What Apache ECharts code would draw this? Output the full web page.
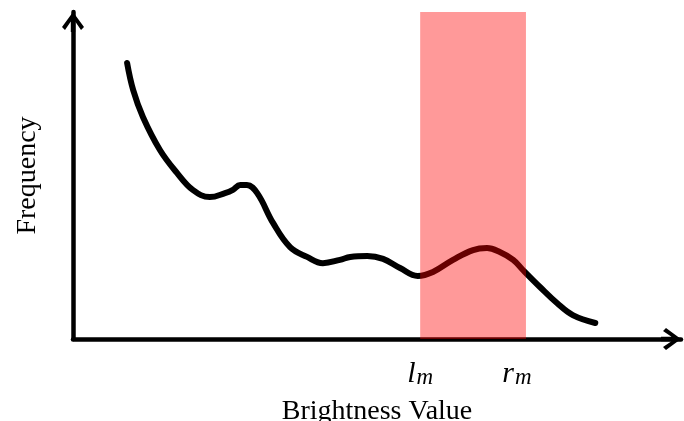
<!DOCTYPE html>
<html>
<head>
<meta charset="utf-8">
<script src="https://cdn.jsdelivr.net/npm/echarts@6/dist/echarts.min.js"></script>
<style>
  html, body { margin: 0; padding: 0; background: #fff; }
  #chart { width: 684px; height: 421px; }
</style>
</head>
<body>
<div id="chart"></div>
<script>
// histogram curve (x: brightness 0..100, y: frequency 0..100)
const brightness = [8.9, 9.9, 11.5, 14.3, 17.1, 19.7, 22.5, 25.0, 26.3, 27.5, 28.6, 30.3, 32.9, 35.7, 38.5, 41.1,
  43.9, 45.6, 48.4, 51.0, 53.8, 56.7, 59.2, 62.5, 65.8, 68.1, 70.2, 72.4, 74.0, 76.8, 79.6, 82.2, 85.9];
const frequency = [84.4, 76.1, 67.9, 57.8, 50.8, 45.6, 43.4, 44.6, 45.6, 47.1, 47.1, 44.6, 35.5, 28.1, 25.1, 23.2,
  24.2, 25.1, 25.4, 24.5, 21.7, 19.3, 20.5, 24.2, 27.2, 27.8, 26.6, 24.2, 21.1, 15.9, 11.0, 7.3, 4.9];

// highlighted range [l_m, r_m], full height
const lm = 57.1;
const rm = 74.5;
const bandTop = 100;
const tickLabels = { l: 'l', r: 'r' };

const serif = '"Liberation Serif", "Times New Roman", serif';
// open arrow head with a short stem, pointing up
const arrowHead = 'path://M11,0 L22,15 L19,18 L13.2,9.5 L13.2,20 L8.8,20 L8.8,9.5 L3,18 L0,15 Z';

const chart = echarts.init(document.getElementById('chart'), null, { renderer: 'canvas' });

const axisLine = {
  show: true,
  symbol: ['none', arrowHead],
  symbolSize: [22, 20],
  symbolOffset: [0, -10],
  lineStyle: { color: '#000', width: 4.5 }
};

const italic = { fontFamily: serif, fontStyle: 'italic', color: '#000', verticalAlign: 'bottom' };

chart.setOption({
  animation: false,
  grid: { left: 73, right: 3, top: 12, bottom: 82, containLabel: false, outerBoundsMode: 'none' },
  xAxis: {
    type: 'value',
    min: 0,
    max: 100,
    name: 'Brightness Value',
    nameLocation: 'middle',
    nameGap: 59,
    nameTextStyle: { fontFamily: serif, fontSize: 28, color: '#000' },
    axisLine: axisLine,
    axisTick: { show: false },
    splitLine: { show: false },
    axisLabel: {
      customValues: [lm, rm],
      margin: 20,
      formatter: v => v === lm ? '{i|' + tickLabels.l + '}{s|m}' : '{r|' + tickLabels.r + '}{s|m}',
      rich: {
        i: Object.assign({ fontSize: 30, lineHeight: 30 }, italic),
        r: Object.assign({ fontSize: 30, lineHeight: 30, padding: [0, 0, 0, -18] }, italic),
        s: Object.assign({ fontSize: 23, lineHeight: 23, padding: [5, 0, 0, 1] }, italic)
      }
    }
  },
  yAxis: {
    type: 'value',
    min: 0,
    max: 100,
    name: 'Frequency',
    nameLocation: 'middle',
    nameRotate: 90,
    nameGap: 31,
    nameTextStyle: { fontFamily: serif, fontSize: 28, color: '#000' },
    axisLine: axisLine,
    axisTick: { show: false },
    axisLabel: { show: false },
    splitLine: { show: false }
  },
  series: [{
    type: 'line',
    data: brightness.map((b, i) => [b, frequency[i]]),
    smooth: 0.4,
    symbol: 'none',
    z: 2,
    lineStyle: { color: '#000', width: 6, cap: 'round', join: 'round' }
  }, {
    // translucent band drawn over the curve
    type: 'custom',
    z: 5,
    silent: true,
    clip: false,
    data: [[lm, rm, bandTop]],
    encode: { x: [0, 1], y: 2 },
    renderItem: (params, api) => {
      const p0 = api.coord([api.value(0), api.value(2)]);
      const p1 = api.coord([api.value(1), 0]);
      return {
        type: 'rect',
        shape: { x: p0[0], y: p0[1], width: p1[0] - p0[0], height: p1[1] - p0[1] },
        style: { fill: 'rgba(255, 0, 0, 0.4)' }
      };
    }
  }]
});
</script>
</body>
</html>
